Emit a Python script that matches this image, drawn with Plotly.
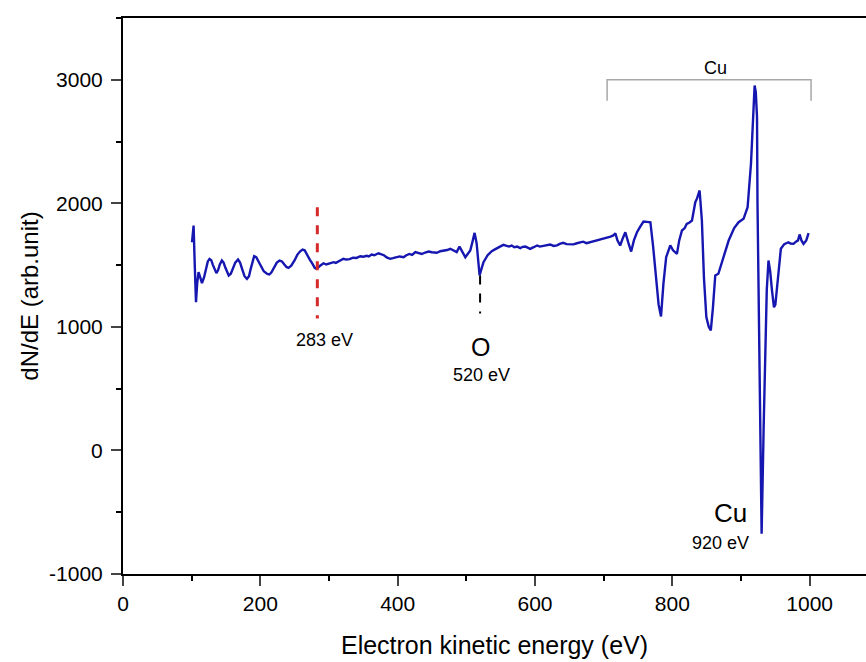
import plotly.graph_objects as go

# ---- data ----
energy = [100.5, 102.8, 104.5, 106.3, 108, 110, 112.5, 115, 118, 121, 123.5, 126, 128.5, 131, 133.5,
          136, 138.5, 141, 144, 146.5, 149, 151.5, 154, 157, 160, 163.5, 167.5, 170.5, 174, 177,
          180.5, 183.5, 186, 188.5, 191, 194, 197, 200, 205, 210, 213, 216, 220, 224, 228, 231.5,
          235, 238, 241, 245, 250, 254, 258, 261.5, 264.5, 268, 272, 276, 279, 281.5, 284, 287,
          292, 296, 300, 303, 306.7, 310, 314, 318, 321, 325, 330, 335, 340, 345.6, 350, 355, 358,
          362, 366, 372, 376, 380, 384, 389, 393, 398, 403, 408.6, 412, 417, 421, 425.7, 430, 435,
          440, 445, 450, 457, 462, 467, 472, 476.6, 481, 486, 490, 494, 498.5, 502, 505.7, 509,
          512, 515, 517, 519.3, 522, 525, 531, 537, 541, 545, 549, 554, 558, 562, 566, 570, 574,
          578.6, 582, 586, 590, 593, 598, 603, 607, 612, 617, 622, 627, 632, 636, 641, 646, 651,
          656, 661, 665, 670, 675, 680, 685, 690, 695, 700, 705, 710, 714, 717, 720, 724, 728,
          731.5, 736, 740, 744, 748.5, 753, 758, 763, 768, 772, 777, 780, 783.5, 787, 791, 797,
          801, 806.7, 810, 814, 818, 821, 825, 828.6, 833.4, 836, 839.7, 843, 846, 849.5, 853,
          856, 859, 862.5, 867, 871, 875, 882, 890, 896.5, 903.7, 909.6, 914.5, 917.5, 919.8,
          921.5, 923.3, 924, 926, 928, 930, 933, 935, 937.5, 940, 942.5, 945, 948, 950, 954, 958,
          963, 969, 972, 976.5, 980, 983, 985.3, 988, 991, 995, 998.4]
dnde = [1685, 1820, 1500, 1200, 1350, 1443, 1400, 1354, 1400, 1480, 1530, 1550, 1540, 1500, 1460,
        1435, 1460, 1505, 1537, 1520, 1480, 1440, 1416, 1430, 1470, 1520, 1545, 1520, 1460, 1410,
        1389, 1410, 1470, 1530, 1572, 1565, 1530, 1500, 1450, 1428, 1424, 1440, 1480, 1520, 1537, 1530,
        1505, 1485, 1478, 1495, 1540, 1585, 1612, 1626, 1620, 1590, 1545, 1510, 1480, 1470, 1478, 1495,
        1515, 1505, 1512, 1520, 1524, 1518, 1530, 1540, 1551, 1545, 1548, 1560, 1558, 1572, 1568, 1575, 1570,
        1585, 1580, 1596, 1588, 1580, 1562, 1551, 1556, 1560, 1570, 1564, 1578, 1590, 1582, 1605, 1598, 1590,
        1602, 1610, 1604, 1600, 1612, 1615, 1622, 1632, 1620, 1605, 1650, 1610, 1564, 1590, 1618, 1690,
        1761, 1675, 1520, 1416, 1470, 1524, 1580, 1613, 1625, 1640, 1650, 1664, 1655, 1650, 1658, 1645, 1650,
        1637, 1648, 1650, 1640, 1632, 1645, 1659, 1650, 1655, 1662, 1667, 1655, 1660, 1672, 1680, 1670, 1672,
        1668, 1677, 1685, 1690, 1678, 1685, 1695, 1705, 1710, 1715, 1722, 1730, 1740, 1758, 1700, 1659, 1720,
        1766, 1680, 1610, 1700, 1766, 1810, 1853, 1850, 1847, 1650, 1350, 1180, 1084, 1350, 1564, 1659,
        1620, 1591, 1700, 1780, 1800, 1834, 1845, 1861, 2009, 2040, 2104, 1861, 1400, 1079, 1000,
        971, 1150, 1416, 1430, 1500, 1580, 1699, 1800, 1847, 1875, 1969, 2320, 2700, 2953,
        2900, 2697, 1998, 1214, 300, -674, 200, 785, 1300, 1537, 1450, 1300, 1159, 1180, 1400, 1632,
        1670, 1685, 1675, 1672, 1690, 1700, 1748, 1700, 1672, 1700, 1758]

x_ticks = [0, 200, 400, 600, 800, 1000]
y_ticks = [-1000, 0, 1000, 2000, 3000]
y_tick_text = ["-1000", "0", "1000", "2000", "3000"]

# marker lines
c_line_x = 283
c_line_y = [1968, 1068]
o_line_x = 520
o_line_y = [1416, 1108]
bracket_x = [705, 1002]
bracket_y = [3000, 2830]

# labels
labels = [
    ("283 eV", 294, 892, 18),
    ("O", 521, 841, 25),
    ("520 eV", 521.5, 607, 18),
    ("Cu", 884, -510, 26),
    ("920 eV", 870, -750, 18),
    ("Cu", 862.5, 3095, 18),
]

FONT = "Arial, Liberation Sans, sans-serif"

fig = go.Figure()
fig.add_trace(go.Scatter(x=energy, y=dnde, mode="lines",
                         line=dict(color="#1616b0", width=2.4), showlegend=False))

# dashed marker lines
fig.add_trace(go.Scatter(x=[c_line_x, c_line_x], y=c_line_y, mode="lines",
                         line=dict(color="#d62a2a", width=3, dash="dash"), showlegend=False))
fig.add_trace(go.Scatter(x=[o_line_x, o_line_x], y=o_line_y, mode="lines",
                         line=dict(color="black", width=2, dash="dash"), showlegend=False))
# Cu bracket
fig.add_trace(go.Scatter(x=[bracket_x[0], bracket_x[0], bracket_x[1], bracket_x[1]],
                         y=[bracket_y[1], bracket_y[0], bracket_y[0], bracket_y[1]],
                         mode="lines", line=dict(color="#a8a8a8", width=1.5), showlegend=False))

for text, lx, ly, size in labels:
    fig.add_annotation(x=lx, y=ly, text=text, showarrow=False,
                       font=dict(family=FONT, size=size, color="black"),
                       xanchor="center", yanchor="middle")

fig.update_layout(
    width=866, height=662,
    margin=dict(l=123, r=0, t=18, b=88),
    paper_bgcolor="white", plot_bgcolor="white",
    font=dict(family=FONT, color="black"),
)
fig.update_xaxes(range=[0, 1082], tickvals=x_ticks, ticks="outside", ticklen=10, tickwidth=2,
                 showline=True, linewidth=2, linecolor="black", mirror=True,
                 showgrid=False, zeroline=False,
                 minor=dict(dtick=100, tick0=0, ticks="outside", ticklen=5, tickwidth=2, tickcolor="black"),
                 tickfont=dict(size=21, family=FONT),
                 title=dict(text="Electron kinetic energy (eV)", font=dict(size=25, family=FONT), standoff=22))
fig.update_yaxes(range=[-1000, 3500], tickvals=y_ticks, ticktext=y_tick_text, ticks="outside",
                 ticklen=10, tickwidth=2, ticklabelstandoff=4,
                 showline=True, linewidth=2, linecolor="black", mirror=False,
                 showgrid=False, zeroline=False,
                 minor=dict(dtick=500, tick0=0, ticks="outside", ticklen=5, tickwidth=2, tickcolor="black"),
                 tickfont=dict(size=21, family=FONT),
                 title=dict(text="dN/dE (arb.unit)", font=dict(size=24, family=FONT), standoff=4))

fig.write_html("out.html")
